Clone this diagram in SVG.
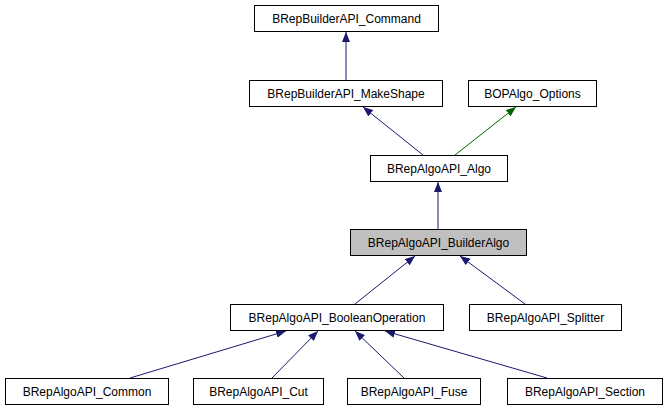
<svg xmlns="http://www.w3.org/2000/svg" width="669" height="411" viewBox="0 0 669 411">
<style>
.n rect{fill:#fff;stroke:#000;stroke-width:1}
.n text{font-family:"Liberation Sans",Arial,sans-serif;font-size:12px;text-anchor:middle;fill:#000}
.e{stroke:#191970;stroke-width:1;fill:none;marker-end:url(#a)}
.g{stroke:#006400;stroke-width:1;fill:none;marker-end:url(#ag)}
</style>
<defs>
<marker id="a" viewBox="0 0 10 8" refX="10" refY="4" markerWidth="10" markerHeight="8" markerUnits="userSpaceOnUse" orient="auto"><path d="M0,0L10,4L0,8z" fill="#191970"/></marker>
<marker id="ag" viewBox="0 0 10 8" refX="10" refY="4" markerWidth="10" markerHeight="8" markerUnits="userSpaceOnUse" orient="auto"><path d="M0,0L10,4L0,8z" fill="#006400"/></marker>
</defs>
<rect width="669" height="411" fill="#fff"/>
<g id="edges">
<path class="e" d="M346,80V32"/>
<path class="e" d="M423,155L363,107"/>
<path class="g" d="M455,155L516,107"/>
<path class="e" d="M438,229V182"/>
<path class="e" d="M355,304L415,256"/>
<path class="e" d="M525,304L460,256"/>
<path class="e" d="M130,378L286,331"/>
<path class="e" d="M272,378L318,331"/>
<path class="e" d="M404,378L355,331"/>
<path class="e" d="M547,378L385,331"/>
</g>
<g id="n1" class="n"><rect x="254.5" y="5.5" width="184" height="26"/><text x="346.5" y="23">BRepBuilderAPI_Command</text></g>
<g id="n2" class="n"><rect x="249.5" y="80.5" width="193" height="26"/><text x="346" y="98">BRepBuilderAPI_MakeShape</text></g>
<g id="n3" class="n"><rect x="468.5" y="80.5" width="128" height="26"/><text x="532.5" y="98">BOPAlgo_Options</text></g>
<g id="n4" class="n"><rect x="370.5" y="155.5" width="137" height="26"/><text x="439" y="173">BRepAlgoAPI_Algo</text></g>
<g id="n5" class="n"><rect x="350.5" y="229.5" width="176" height="26" style="fill:#bfbfbf"/><text x="438.5" y="247">BRepAlgoAPI_BuilderAlgo</text></g>
<g id="n6" class="n"><rect x="230.5" y="304.5" width="213" height="26"/><text x="337" y="322">BRepAlgoAPI_BooleanOperation</text></g>
<g id="n7" class="n"><rect x="469.5" y="304.5" width="152" height="26"/><text x="545.5" y="322">BRepAlgoAPI_Splitter</text></g>
<g id="n8" class="n"><rect x="5.5" y="378.5" width="163" height="26"/><text x="87" y="396">BRepAlgoAPI_Common</text></g>
<g id="n9" class="n"><rect x="193.5" y="378.5" width="130" height="26"/><text x="258.5" y="396">BRepAlgoAPI_Cut</text></g>
<g id="n10" class="n"><rect x="347.5" y="378.5" width="133" height="26"/><text x="414" y="396">BRepAlgoAPI_Fuse</text></g>
<g id="n11" class="n"><rect x="507.5" y="378.5" width="155" height="26"/><text x="585" y="396">BRepAlgoAPI_Section</text></g>
</svg>
